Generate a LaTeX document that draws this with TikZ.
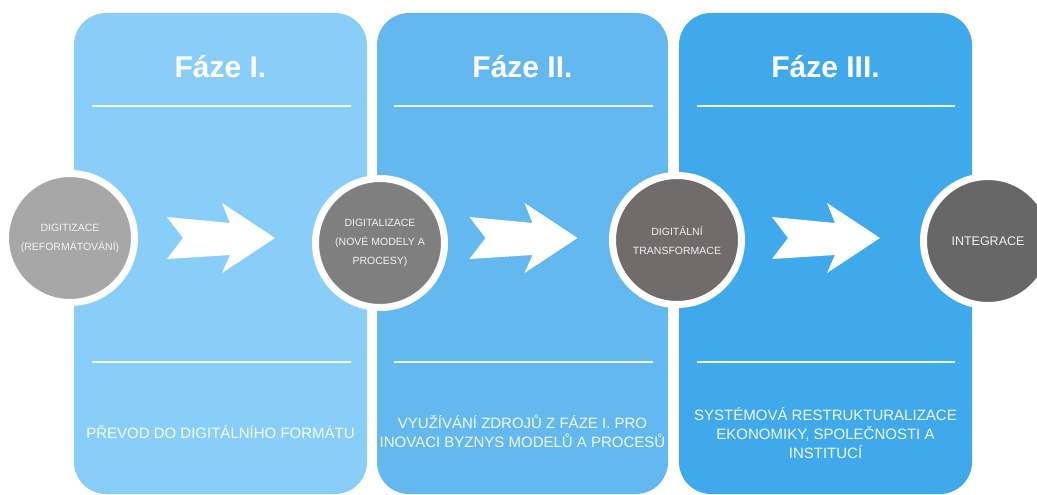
\documentclass[tikz,border=0pt]{standalone}
\usepackage{fontspec}
\setmainfont{Liberation Sans}
\definecolor{panelA}{HTML}{89CEF9}
\definecolor{panelB}{HTML}{63B8EF}
\definecolor{panelC}{HTML}{40A9EC}
\definecolor{greyA}{HTML}{A7A7A7}
\definecolor{greyB}{HTML}{7F7F7F}
\definecolor{greyC}{HTML}{706C6C}
\definecolor{greyD}{HTML}{676767}
\definecolor{softwhite}{HTML}{F2F2F2}
\tikzset{
  panel/.style={rounded corners=32pt},
  rule/.style={draw=white, line width=2pt, opacity=0.9},
  title/.style={text=white, font=\fontsize{30}{36}\selectfont\bfseries, anchor=center},
  stage/.style={circle, minimum size=129pt, inner sep=0pt, draw=white, line width=7pt,
                text=softwhite, align=center, font=\fontsize{10.5}{19}\selectfont},
  caption/.style={text=white, text opacity=0.92, align=center,
                  font=\fontsize{15}{19}\selectfont},
  chevron/.style={fill=white, draw=none}
}
% white chevron arrow with its tail at the given point
\newcommand{\chevronat}[2]{%
  \fill[chevron] (#1+0,#2-21) -- (#1+63,#2-15) -- (#1+55,#2-35) -- (#1+108,#2)
    -- (#1+55,#2+35) -- (#1+63,#2+17) -- (#1+0,#2+21) -- (#1+16,#2) -- cycle;}
\begin{document}
\begin{tikzpicture}[x=1pt,y=-1pt]
\useasboundingbox (0,0) rectangle (1037,495);
\fill[white] (0,0) rectangle (1037,495);

% phase panels
\fill[panel, panelA] (74,13) rectangle (367,494);
\fill[panel, panelB] (377,13) rectangle (668,494);
\fill[panel, panelC] (679,13) rectangle (972,494);

% titles
\node[title] (t1) at (220.5,67) {Fáze I.};
\node[title] (t2) at (522.5,67) {Fáze II.};
\node[title] (t3) at (825.5,67) {Fáze III.};

% separator rules
\draw[rule] (92,106) -- (351,106);
\draw[rule] (394,106) -- (653,106);
\draw[rule] (697,106) -- (955,106);
\draw[rule] (92,362) -- (351,362);
\draw[rule] (394,362) -- (653,362);
\draw[rule] (697,362) -- (955,362);

% arrows between stages
\chevronat{167}{238}
\chevronat{469.5}{238}
\chevronat{772}{238}

% stages
\node[stage, fill=greyA] (s1) at (70,238) {DIGITIZACE\\(REFORMÁTOVÁNÍ)};
\node[stage, fill=greyB] (s2) at (380,243) {DIGITALIZACE\\(NOVÉ MODELY A\\PROCESY)};
\node[stage, fill=greyC] (s3) at (677,240) {DIGITÁLNÍ\\TRANSFORMACE};
\node[stage, fill=greyD, font=\fontsize{12.5}{19}\selectfont] (s4) at (988,241) {INTEGRACE};

% descriptions
\node[caption] (d1) at (220.5,432) {PŘEVOD DO DIGITÁLNÍHO FORMÁTU};
\node[caption] (d2) at (522.5,431.5) {VYUŽÍVÁNÍ ZDROJŮ Z FÁZE I. PRO\\INOVACI BYZNYS MODELŮ A PROCESŮ};
\node[caption] (d3) at (825.5,433) {SYSTÉMOVÁ RESTRUKTURALIZACE\\EKONOMIKY, SPOLEČNOSTI A\\INSTITUCÍ};
\end{tikzpicture}
\end{document}
